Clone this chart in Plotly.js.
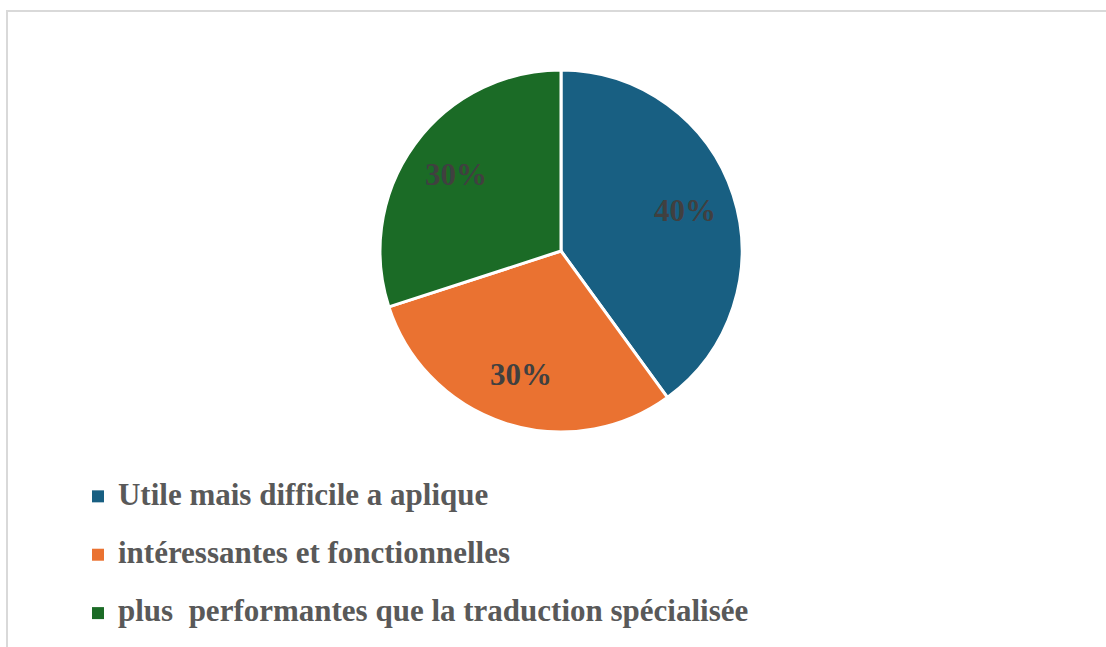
<!DOCTYPE html>
<html>
<head>
<meta charset="utf-8">
<script src="https://cdn.plot.ly/plotly-3.0.1.min.js"></script>
<style>
html,body{margin:0;padding:0;background:#fff;overflow:hidden;}
#frame{position:absolute;left:6px;top:10px;width:1200px;height:700px;border:2px solid #d9d9d9;box-sizing:border-box;}
#chart{position:absolute;left:0;top:0;width:1106px;height:647px;}
</style>
</head>
<body>
<div id="frame"></div>
<div id="chart"></div>
<script>
const categories = [
  "Utile mais difficile a aplique",
  "intéressantes et fonctionnelles",
  "plus  performantes que la traduction spécialisée"
];
const values = [40, 30, 30];
const colors = ["#185F82", "#EA7231", "#1B6B26"];

const W = 1106, H = 647;
const pieLeft = 380, pieRight = 742, pieTop = 70, pieBottom = 432;
const domX = [pieLeft / W, pieRight / W];
const domY = [1 - pieBottom / H, 1 - pieTop / H];
const cx = (domX[0] + domX[1]) / 2, cy = (domY[0] + domY[1]) / 2;

const legendLabels = categories.map((c, i) =>
  '<span style="font-size:31px">' + c.replace(/  /g, '&nbsp;&nbsp;') + '</span>' +
  (i < categories.length - 1 ? '<br>&nbsp;' : ''));

// legend-carrier pie (no slice outline so the legend squares are full size),
// hidden under the centre of the main pie
const legendTrace = {
  type: 'pie',
  labels: legendLabels,
  values: values,
  sort: false,
  direction: 'clockwise',
  marker: {colors: colors, line: {width: 0}},
  textinfo: 'none',
  domain: {x: [cx - 1 / W, cx + 1 / W], y: [cy - 1 / H, cy + 1 / H]},
  hoverinfo: 'skip',
  showlegend: true
};

const mainTrace = {
  type: 'pie',
  labels: legendLabels,
  values: values,
  sort: false,
  direction: 'clockwise',
  rotation: 0,
  marker: {colors: colors, line: {color: '#ffffff', width: 3}},
  textinfo: 'none',
  domain: {x: domX, y: domY},
  hoverinfo: 'percent',
  showlegend: false
};

// percentage labels placed from the data (mid-angle of each slice)
const total = values.reduce((a, b) => a + b, 0);
const radiusPx = (pieRight - pieLeft) / 2;
const labelR = 0.72 * radiusPx;
let cum = 0;
const annotations = values.map(v => {
  const mid = (cum + v / 2) / total;
  cum += v;
  const th = 2 * Math.PI * mid;
  return {
    xref: 'paper', yref: 'paper',
    x: cx + labelR * Math.sin(th) / W,
    y: cy + labelR * Math.cos(th) / H,
    text: Math.round(100 * v / total) + '%',
    showarrow: false,
    xanchor: 'center', yanchor: 'middle',
    font: {family: 'Liberation Serif', size: 31, color: '#404040', weight: 'bold'}
  };
});

const layout = {
  width: W,
  height: H,
  margin: {l: 0, r: 0, t: 0, b: 0, autoexpand: false},
  paper_bgcolor: 'rgba(0,0,0,0)',
  plot_bgcolor: 'rgba(0,0,0,0)',
  showlegend: true,
  annotations: annotations,
  legend: {
    orientation: 'v',
    x: 0.0705, xanchor: 'left',
    y: 1 - 476 / H, yanchor: 'top',
    valign: 'top',
    font: {family: 'Liberation Serif', size: 21.3, color: '#595959', weight: 'bold'},
    bgcolor: 'rgba(0,0,0,0)'
  }
};

Plotly.newPlot('chart', [legendTrace, mainTrace], layout, {displayModeBar: false, staticPlot: true});
</script>
</body>
</html>
